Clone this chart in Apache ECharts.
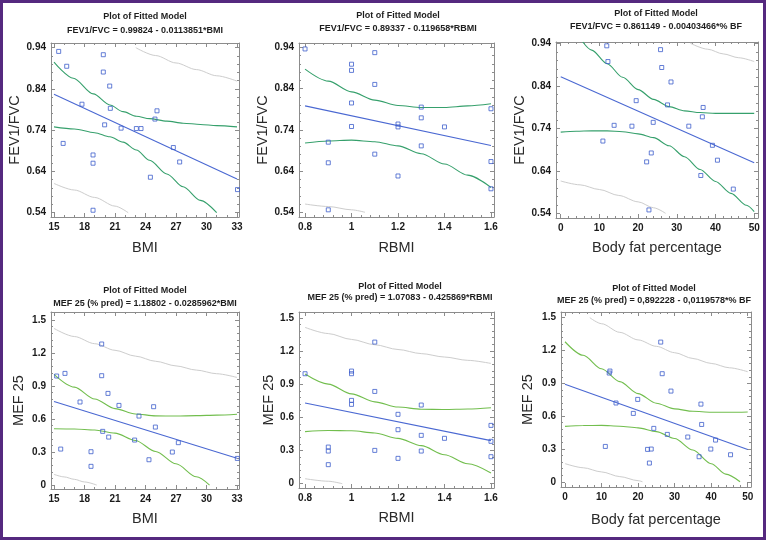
<!DOCTYPE html>
<html><head><meta charset="utf-8">
<script src="https://cdn.jsdelivr.net/npm/echarts@6/dist/echarts.min.js"></script>
<style>
html,body{margin:0;padding:0;background:#fff}
#c{position:absolute;left:0;top:0;width:766px;height:540px}
#frame{position:absolute;left:0;top:0;width:766px;height:540px;box-sizing:border-box;border:3px solid #55297f;pointer-events:none}
</style>
</head><body><div id="c"></div><div id="frame"></div>
<script>
// ---------- DATA ----------
const titleLine = 'Plot of Fitted Model';
const equations = [
  'FEV1/FVC = 0.99824 - 0.0113851*BMI',
  'FEV1/FVC = 0.89337 - 0.119658*RBMI',
  'FEV1/FVC = 0.861149 - 0.00403466*% BF',
  'MEF 25 (% pred) = 1.18802 - 0.0285962*BMI',
  'MEF 25 (% pred) = 1.07083 - 0.425869*RBMI',
  'MEF 25 (% pred) = 0,892228 - 0,0119578*% BF'
];
const xNames = ['BMI', 'RBMI', 'Body fat percentage', 'BMI', 'RBMI', 'Body fat percentage'];
const yNames = ['FEV1/FVC', 'FEV1/FVC', 'FEV1/FVC', 'MEF 25', 'MEF 25', 'MEF 25'];
const bmiTicks = [15, 18, 21, 24, 27, 30, 33];
const rbmiTicks = [0.8, 1, 1.2, 1.4, 1.6];
const bfTicks = [0, 10, 20, 30, 40, 50];
const fevTicks = [0.54, 0.64, 0.74, 0.84, 0.94];
const mefTicks = [0, 0.3, 0.6, 0.9, 1.2, 1.5];

// Panel 1: FEV1/FVC vs BMI
const fevBmi = [[15.46,0.931],[16.25,0.895],[15.9,0.708],[17.75,0.803],[18.84,0.680],[18.84,0.660],[18.84,0.546],[19.85,0.923],[19.85,0.881],[19.98,0.753],[20.48,0.847],[20.54,0.793],[21.6,0.745],[23.1,0.744],[23.56,0.744],[24.48,0.626],[24.93,0.767],[25.13,0.787],[26.74,0.698],[27.36,0.663],[33.05,0.596]];
const fevBmiFit = [[15,0.827],[33,0.622]];
const fevBmiCiUp = [[15,0.905],[16.9,0.866],[18.87,0.828],[20.5,0.801],[21.8,0.785],[23.1,0.774],[24.4,0.768],[26.1,0.762],[27.7,0.757],[29.4,0.754],[31,0.751],[33,0.748]];
const fevBmiCiLo = [[15,0.748],[17,0.743],[19,0.734],[20.5,0.724],[21.8,0.711],[23.1,0.692],[24.4,0.667],[26.1,0.634],[27.7,0.603],[29.4,0.570],[31,0.540]];
const fevBmiPiUp = [[23.05,0.940],[25,0.921],[27,0.903],[29,0.887],[31,0.872],[33,0.859]];
const fevBmiPiLo = [[15,0.611],[17,0.595],[19,0.577],[21,0.556],[22.3,0.540]];

// Panel 2: FEV1/FVC vs RBMI
const fevRbmi = [[0.8,0.936],[0.9,0.710],[0.9,0.660],[0.9,0.546],[1,0.899],[1,0.884],[1,0.805],[1,0.748],[1.1,0.927],[1.1,0.850],[1.1,0.681],[1.2,0.754],[1.2,0.747],[1.2,0.628],[1.3,0.795],[1.3,0.769],[1.3,0.701],[1.4,0.747],[1.6,0.791],[1.6,0.663],[1.6,0.597]];
const fevRbmiFit = [[0.8,0.798],[1.6,0.702]];
const fevRbmiCiUp = [[0.8,0.887],[0.9,0.858],[1.0,0.832],[1.1,0.812],[1.2,0.799],[1.3,0.794],[1.4,0.794],[1.5,0.798],[1.6,0.803]];
const fevRbmiCiLo = [[0.8,0.708],[0.9,0.713],[1.0,0.715],[1.1,0.711],[1.2,0.701],[1.3,0.682],[1.4,0.657],[1.5,0.630],[1.6,0.600]];
const fevRbmiPiUp = [];
const fevRbmiPiLo = [[0.8,0.560],[0.9,0.554],[1.0,0.546],[1.058,0.540]];

// Panel 3: FEV1/FVC vs body fat %
const fevBf = [[11.9,0.934],[12.2,0.897],[10.9,0.710],[13.8,0.747],[18.4,0.745],[19.5,0.805],[22.2,0.661],[22.8,0.548],[23.4,0.682],[23.9,0.754],[25.8,0.925],[26.1,0.883],[27.6,0.795],[28.5,0.849],[33.1,0.745],[36.2,0.629],[36.6,0.767],[36.8,0.789],[39.2,0.700],[40.5,0.665],[44.6,0.597]];
const fevBfFit = [[0,0.861],[50,0.659]];
const fevBfCiUp = [[5.7,0.943],[8,0.924],[12,0.892],[16,0.860],[20,0.831],[24,0.808],[28,0.791],[32,0.781],[36,0.777],[40,0.775],[44,0.775],[50,0.775]];
const fevBfCiLo = [[0,0.731],[4,0.733],[8,0.734],[12,0.734],[16,0.732],[20,0.727],[24,0.718],[28,0.699],[32,0.673],[36,0.643],[40,0.615],[44,0.587],[48,0.559],[50,0.544]];
const fevBfPiUp = [[33.5,0.940],[38,0.926],[42,0.915],[46,0.906],[50,0.897]];
const fevBfPiLo = [[0,0.616],[5,0.607],[10,0.596],[15,0.582],[20,0.567],[24,0.553],[27.1,0.540]];

// Panel 4: MEF 25 vs BMI
const mefBmi = [[15.26,0.991],[15.66,0.327],[16.08,1.015],[17.56,0.755],[18.64,0.303],[18.64,0.170],[19.69,1.282],[19.69,0.994],[19.79,0.488],[20.31,0.833],[20.38,0.436],[21.39,0.724],[22.93,0.409],[23.36,0.627],[24.34,0.230],[24.8,0.712],[24.97,0.527],[26.64,0.300],[27.23,0.385],[33.03,0.242]];
const mefBmiFit = [[15,0.759],[33,0.244]];
const mefBmiCiUp = [[15,1.006],[17,0.890],[19,0.782],[21,0.695],[23,0.646],[25,0.629],[27,0.627],[29,0.631],[31,0.636],[33,0.644]];
const mefBmiCiLo = [[15,0.512],[17,0.510],[19,0.501],[21,0.472],[23,0.405],[25,0.305],[27,0.193],[29,0.075],[30.3,0]];
const mefBmiPiUp = [[15,1.424],[17,1.350],[19,1.285],[21,1.225],[23,1.172],[25,1.125],[27,1.083],[29,1.045],[31,1.012],[33,0.978]];
const mefBmiPiLo = [[15,0.097],[16,0.074],[17,0.052],[18,0.028],[19.2,0]];

// Panel 5: MEF 25 vs RBMI
const mefRbmi = [[0.8,0.994],[0.9,0.331],[0.9,0.295],[0.9,0.172],[1,1.018],[1,0.994],[1,0.753],[1,0.717],[1.1,1.280],[1.1,0.834],[1.1,0.301],[1.2,0.627],[1.2,0.488],[1.2,0.229],[1.3,0.711],[1.3,0.437],[1.3,0.295],[1.4,0.410],[1.6,0.527],[1.6,0.383],[1.6,0.244]];
const mefRbmiFit = [[0.8,0.730],[1.6,0.389]];
const mefRbmiCiUp = [[0.8,0.991],[0.9,0.900],[1.0,0.812],[1.1,0.740],[1.2,0.693],[1.3,0.673],[1.4,0.670],[1.5,0.675],[1.6,0.687]];
const mefRbmiCiLo = [[0.8,0.471],[0.9,0.481],[1.0,0.478],[1.1,0.458],[1.2,0.410],[1.3,0.344],[1.4,0.262],[1.5,0.180],[1.6,0.097]];
const mefRbmiPiUp = [[0.8,1.413],[0.9,1.357],[1.0,1.304],[1.1,1.256],[1.2,1.213],[1.3,1.176],[1.4,1.145],[1.5,1.115],[1.6,1.087]];
const mefRbmiPiLo = [[0.8,0.045],[0.9,0.022],[0.96,0]];

// Panel 6: MEF 25 vs body fat %
const mefBf = [[11.04,0.323],[12.1,0.994],[12.3,1.012],[13.96,0.720],[18.7,0.625],[19.9,0.753],[22.6,0.296],[23.1,0.171],[23.6,0.299],[24.3,0.488],[26.2,1.277],[26.6,0.988],[28,0.433],[29,0.829],[33.6,0.409],[36.7,0.229],[37.2,0.710],[37.4,0.524],[39.9,0.299],[41.2,0.381],[45.3,0.247]];
const mefBfFit = [[0,0.892],[50,0.294]];
const mefBfCiUp = [[0,1.280],[5,1.156],[10,1.033],[15,0.915],[20,0.806],[25,0.718],[30,0.666],[35,0.644],[40,0.636],[45,0.635],[50,0.638]];
const mefBfCiLo = [[0,0.506],[5,0.514],[10,0.515],[15,0.508],[20,0.493],[25,0.458],[30,0.395],[35,0.290],[40,0.165],[44,0.070],[47.9,0]];
const mefBfPiUp = [[6.8,1.500],[10,1.445],[15,1.366],[20,1.297],[25,1.238],[30,1.180],[35,1.127],[40,1.082],[45,1.042],[50,1.006]];
const mefBfPiLo = [[0,0.166],[5,0.128],[10,0.090],[15,0.047],[20,0.010],[21.2,0]];

// ---------- LAYOUT ----------
const FONT = '"Liberation Sans", Arial, sans-serif';
const BLUE = '#4a68d2', GRAY = '#cdcdcd', GREEN_TOP = '#36a06c', GREEN_BOT = '#72be4e';
const BOX = '#8c8c8c';

const panels = [
  {grid:{left:51,top:43,width:188,height:174}, xr:[14.705,33.197], yr:[0.5296,0.9514], xt:bmiTicks, xs:1, yt:fevTicks, ys:0.02, tc:[145,17,30.5], xg:23.5, yg:25,
   pts:fevBmi, fit:fevBmiFit, ciU:fevBmiCiUp, ciL:fevBmiCiLo, piU:fevBmiPiUp, piL:fevBmiPiLo, green:GREEN_TOP},
  {grid:{left:299,top:43,width:195,height:174}, xr:[0.774,1.613], yr:[0.5286,0.9504], xt:rbmiTicks, xs:0.04, yt:fevTicks, ys:0.02, tc:[398,16,29], xg:23, yg:18,
   pts:fevRbmi, fit:fevRbmiFit, ciU:fevRbmiCiUp, ciL:fevRbmiCiLo, piU:fevRbmiPiUp, piL:fevRbmiPiLo, green:GREEN_TOP},
  {grid:{left:556,top:42,width:202,height:176}, xr:[-1.22,50.98], yr:[0.529,0.943], xt:bfTicks, xs:2, yt:fevTicks, ys:0.02, tc:[656,14,27], xg:22, yg:20,
   pts:fevBf, fit:fevBfFit, ciU:fevBfCiUp, ciL:fevBfCiLo, piU:fevBfPiUp, piL:fevBfPiLo, green:GREEN_TOP},
  {grid:{left:51,top:312,width:188,height:177}, xr:[14.705,33.197], yr:[-0.036,1.573], xt:bmiTicks, xs:1, yt:mefTicks, ys:0.06, tc:[145,290.5,304], xg:22, yg:25,
   pts:mefBmi, fit:mefBmiFit, ciU:mefBmiCiUp, ciL:mefBmiCiLo, piU:mefBmiPiUp, piL:mefBmiPiLo, green:GREEN_BOT},
  {grid:{left:299,top:312,width:195,height:176}, xr:[0.774,1.613], yr:[-0.039,1.552], xt:rbmiTicks, xs:0.04, yt:mefTicks, ys:0.06, tc:[400,286.5,297.5], xg:22.5, yg:18,
   pts:mefRbmi, fit:mefRbmiFit, ciU:mefRbmiCiUp, ciL:mefRbmiCiLo, piU:mefRbmiPiUp, piL:mefRbmiPiLo, green:GREEN_BOT},
  {grid:{left:561,top:312,width:190,height:175}, xr:[-1.09,50.9], yr:[-0.048,1.552], xt:bfTicks, xs:2, yt:mefTicks, ys:0.06, tc:[654,288.5,300.7], xg:25, yg:26,
   pts:mefBf, fit:mefBfFit, ciU:mefBfCiUp, ciL:mefBfCiLo, piU:mefBfPiUp, piL:mefBfPiLo, green:GREEN_BOT}
];

function minorsOf(majors, step) {
  const out = [];
  const a = majors[0], b = majors[majors.length - 1];
  const n = Math.round((b - a) / step);
  for (let i = 0; i <= n; i++) {
    const v = +(a + i * step).toFixed(6);
    if (!majors.some(m => Math.abs(m - v) < 1e-9)) out.push(v);
  }
  return out;
}

const grids = [], xAxes = [], yAxes = [], series = [], graphics = [];
panels.forEach((p, i) => {
  grids.push(Object.assign({outerBoundsMode:'none', containLabel:false}, p.grid));
  const xMinor = minorsOf(p.xt, p.xs), yMinor = minorsOf(p.yt, p.ys);
  const lineStyle = {color: BOX, width: 1};
  const base = (rng) => ({type:'value', gridIndex:i, min:rng[0], max:rng[1], splitLine:{show:false}, silent:true});
  const xMainIdx = xAxes.length;
  xAxes.push(Object.assign(base(p.xr), {position:'bottom',
    axisLine:{show:true, onZero:false, lineStyle},
    axisTick:{show:true, inside:true, length:4, customValues:p.xt, lineStyle},
    axisLabel:{show:true, customValues:p.xt, margin:5, color:'#1a1a1a', fontWeight:'bold', fontSize:10, fontFamily:FONT},
    name:xNames[i], nameLocation:'middle', nameGap:p.xg,
    nameTextStyle:{fontSize:14.5, color:'#2a2a2a', fontFamily:FONT, verticalAlign:'top'}}));
  xAxes.push(Object.assign(base(p.xr), {position:'bottom', axisLine:{show:false, onZero:false},
    axisTick:{show:true, inside:true, length:2, customValues:xMinor, lineStyle}, axisLabel:{show:false}}));
  xAxes.push(Object.assign(base(p.xr), {position:'top', axisLine:{show:true, onZero:false, lineStyle},
    axisTick:{show:true, inside:true, length:4, customValues:p.xt, lineStyle}, axisLabel:{show:false}}));
  xAxes.push(Object.assign(base(p.xr), {position:'top', axisLine:{show:false, onZero:false},
    axisTick:{show:true, inside:true, length:2, customValues:xMinor, lineStyle}, axisLabel:{show:false}}));
  const yMainIdx = yAxes.length;
  yAxes.push(Object.assign(base(p.yr), {position:'left',
    axisLine:{show:true, onZero:false, lineStyle},
    axisTick:{show:true, inside:true, length:4, customValues:p.yt, lineStyle},
    axisLabel:{show:true, customValues:p.yt, margin:5, color:'#1a1a1a', fontWeight:'bold', fontSize:10, fontFamily:FONT},
    name:yNames[i], nameLocation:'middle', nameGap:p.yg, nameRotate:90,
    nameTextStyle:{fontSize:14.5, color:'#2a2a2a', fontFamily:FONT}}));
  yAxes.push(Object.assign(base(p.yr), {position:'left', axisLine:{show:false, onZero:false},
    axisTick:{show:true, inside:true, length:2, customValues:yMinor, lineStyle}, axisLabel:{show:false}}));
  yAxes.push(Object.assign(base(p.yr), {position:'right', axisLine:{show:true, onZero:false, lineStyle},
    axisTick:{show:true, inside:true, length:4, customValues:p.yt, lineStyle}, axisLabel:{show:false}}));
  yAxes.push(Object.assign(base(p.yr), {position:'right', axisLine:{show:false, onZero:false},
    axisTick:{show:true, inside:true, length:2, customValues:yMinor, lineStyle}, axisLabel:{show:false}}));

  const line = (data, color, w) => ({type:'line', xAxisIndex:xMainIdx, yAxisIndex:yMainIdx, data,
    showSymbol:false, symbol:'none', smooth:0.3, smoothMonotone:'x', silent:true, clip:true,
    lineStyle:{color, width:w}, z:2});
  if (p.piU.length) series.push(line(p.piU, GRAY, 1));
  if (p.piL.length) series.push(line(p.piL, GRAY, 1));
  series.push(line(p.ciU, p.green, 1.1));
  series.push(line(p.ciL, p.green, 1.1));
  series.push(line(p.fit, BLUE, 1.1));
  series.push({type:'scatter', xAxisIndex:xMainIdx, yAxisIndex:yMainIdx, data:p.pts, symbol:'rect', symbolSize:4,
    itemStyle:{color:'rgba(255,255,255,0)', borderColor:'#3f5fcc', borderWidth:1}, silent:true, z:3});

  const tstyle = {fontFamily:FONT, fontWeight:'bold', fontSize:9, fill:'#1e1e1e', align:'center', verticalAlign:'middle', textAlign:'center', textVerticalAlign:'middle'};
  graphics.push({type:'text', x:p.tc[0], y:p.tc[1], style:Object.assign({text:titleLine}, tstyle), silent:true});
  graphics.push({type:'text', x:p.tc[0], y:p.tc[2], style:Object.assign({text:equations[i]}, tstyle), silent:true});
});

const chart = echarts.init(document.getElementById('c'), null, {renderer:'canvas'});
chart.setOption({
  backgroundColor:'#ffffff',
  animation:false,
  grid:grids, xAxis:xAxes, yAxis:yAxes, series, graphic:graphics
});
</script>
</body></html>
